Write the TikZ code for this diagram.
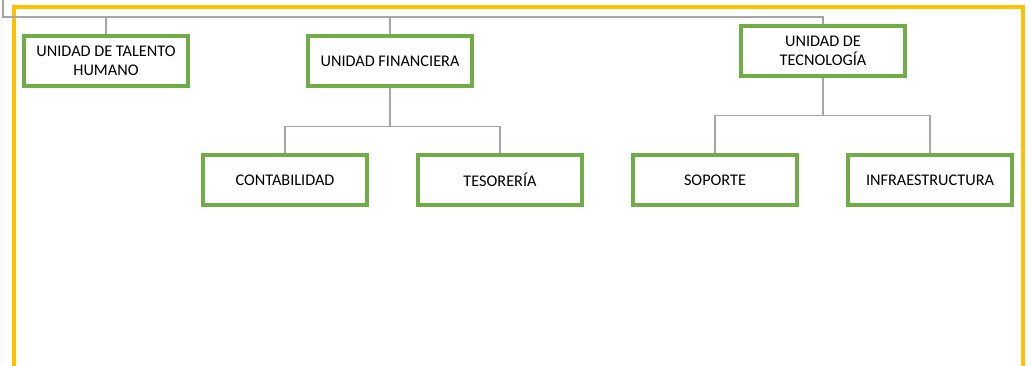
\documentclass[tikz,border=0pt]{standalone}
\usepackage{fontspec}
\setmainfont{Carlito}
\usetikzlibrary{positioning}
\definecolor{framegold}{HTML}{FFC000}
\definecolor{boxgreen}{HTML}{70AD47}
\definecolor{linegray}{HTML}{A6A6A6}
\tikzset{
  unit box/.style={
    draw=boxgreen, line width=2.9pt, fill=white,
    minimum width=123pt, minimum height=37pt,
    align=center, inner sep=2pt,
    font=\fontsize{12.2}{14.3}\selectfont
  },
  org line/.style={
    draw=linegray, line width=0.9pt
  },
  frame line/.style={
    draw=framegold, line width=2.4pt
  }
}

\begin{document}
\begin{tikzpicture}[x=0.75pt,y=-0.75pt]
\useasboundingbox (0,0) rectangle (1031,366);
\clip (0,0) rectangle (1031,366);
\draw[frame line] (14,7) rectangle (1023,390);
\node[unit box] (talento) at (106,61) {UNIDAD DE TALENTO\\HUMANO};
\node[unit box] (financiera) at (390,61) {UNIDAD FINANCIERA};
\node[unit box] (tecno) at (823,51) {UNIDAD DE\\TECNOLOGÍA};
\node[unit box] (contab) at (285,180) {CONTABILIDAD};
\node[unit box] (tesor) at (500,180) {TESORERÍA};
\node[unit box] (soporte) at (715,180) {SOPORTE};
\node[unit box] (infra) at (930,180) {INFRAESTRUCTURA};
% connectors
\coordinate (root) at (3,0);
\coordinate (bus) at (3,17);
\draw[org line] (root) -- (bus) -| (tecno.north);
\foreach \n in {talento,financiera}
  \draw[org line] (bus -| \n.north) -- (\n.north);
\draw[org line] (financiera.south) -- ++(0,39) coordinate (fbus) -| (contab.north)
  (fbus) -| (tesor.north);
\draw[org line] (tecno.south) -- ++(0,38) coordinate (tbus) -| (soporte.north)
  (tbus) -| (infra.north);
\end{tikzpicture}
\end{document}
